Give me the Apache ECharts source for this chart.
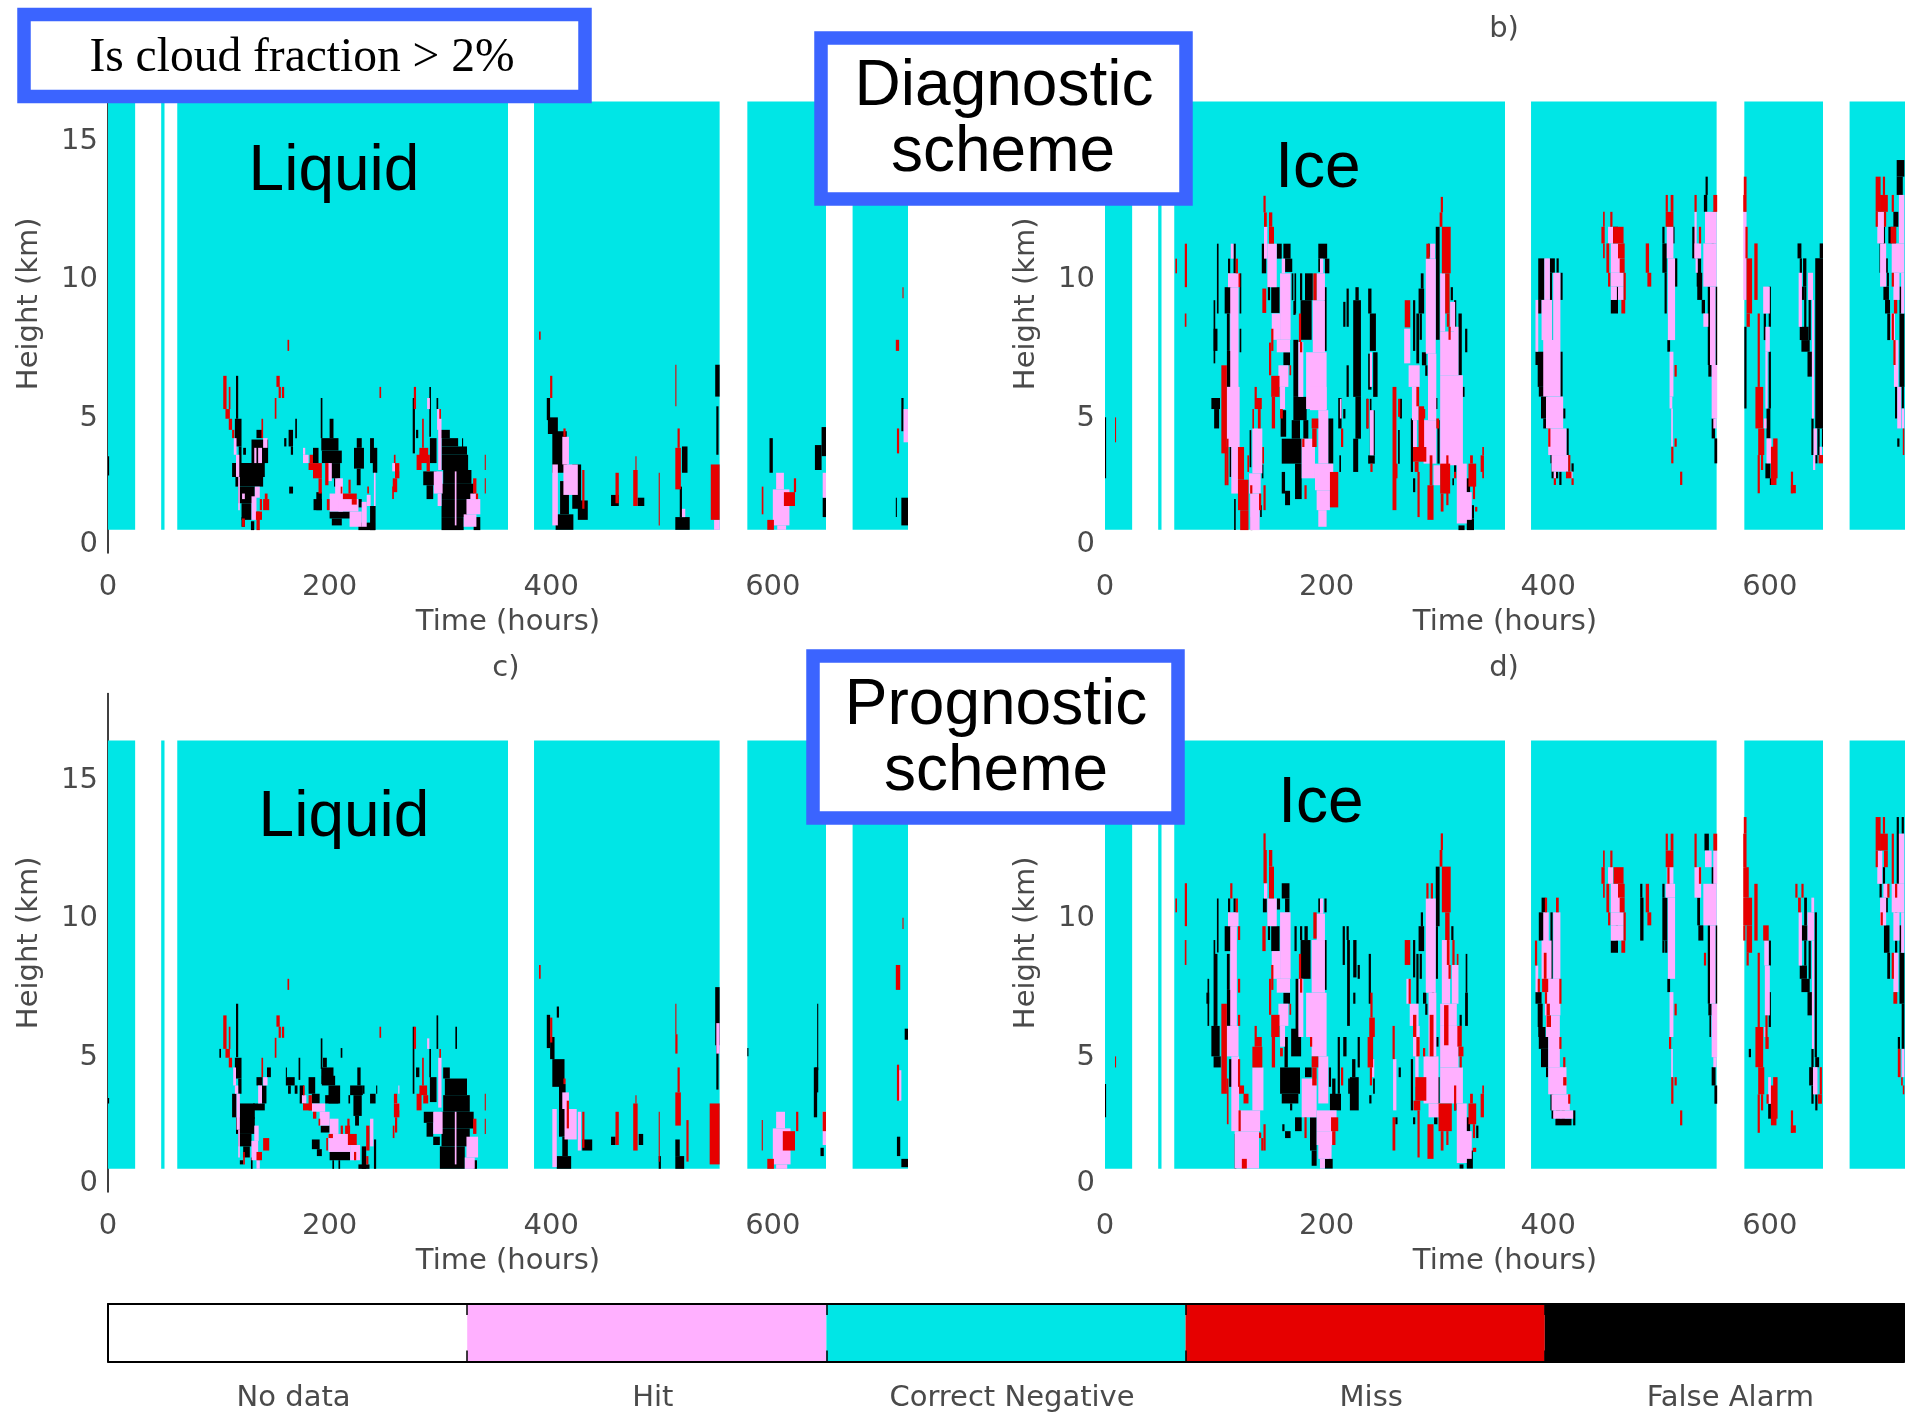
<!DOCTYPE html>
<html><head><meta charset="utf-8">
<script src="https://cdn.jsdelivr.net/npm/echarts@6/dist/echarts.min.js"></script>
<style>html,body{margin:0;padding:0;background:#fff}#c{width:1917px;height:1413px}</style>
</head><body><div id="c"></div>
<script>
// Each run: [hourStart, hourEnd, heightBottomKm, heightTopKm]
const observed = [[0,24.5,0.84,16.3],[48,51,0.84,16.3],[62.5,361,0.84,16.3],[384.5,552,0.84,16.3],[577,648,0.84,16.3],[672,722,0.84,16.3]];
const legendNames = ['No data','Hit','Correct Negative','Miss','False Alarm'];
const xTicks = [0,200,400,600];
const yTicks = [0.42,5,10,15];

const liquidDiagFalse = [[0,1,2.8,3.5],[115.5,117.5,4.85,6.4],[114.5,120.5,3.85,4.85],[118,120.5,3.25,3.85],[122,124.5,3.55,3.8],[112,141.5,2.75,3.25],[115,140,2.4,2.75],[117.5,132.5,1.8,2.4],[120.5,129.5,1.2,1.8],[129.5,144.5,3.25,4.1],[134,139.5,4.15,4.45],[129,132,0.83,1.15],[120.5,123.5,0.95,1.3],[163,167,3.85,4.45],[159,161,3.85,4.15],[165,167,3.55,3.85],[169,170.5,4.15,4.85],[163.5,167,2.15,2.4],[192,193.5,4.15,5.6],[200,203.5,4.15,4.85],[192.5,208,3.7,4.15],[193,211,3.25,3.7],[185,190,3.25,3.8],[200,209.5,2.7,3.25],[204,207,2.4,2.7],[188,193,1.55,2.2],[185.5,193,1.55,1.95],[200,218.5,1.25,1.5],[202,211,1,1.25],[224.5,229,3.8,4.15],[222,231,3.05,3.8],[224.5,228,2.45,3.05],[236.5,240,3.25,4.15],[239,243,2.9,3.8],[226,241,0.83,1.1],[236.5,241.5,0.83,1.7],[226,229,1.65,1.95],[275,277,3.6,5.6],[278,280,4.15,4.45],[290,291.5,4.2,6],[296.5,298,5.2,5.6],[290.5,296.5,3.25,4.15],[284.5,296.5,2.45,2.95],[287.5,293.5,1.95,2.45],[299.5,308.5,4.15,4.45],[301,316,3.85,4.15],[301,324,3.55,3.85],[301,325,3,3.55],[302.5,328,2.5,3],[301,330,1.95,2.5],[301,324,1.3,1.95],[301,321,0.83,1.3],[330,336,0.83,1.3],[319.5,320.5,3.8,4.15],[396,399,4.8,5.6],[397,406,4.3,4.9],[401,414,2.9,4.4],[419,427,1.6,3.2],[404,420,0.84,1.4],[408,416,1.4,2.6],[424,433,1.2,1.9],[454,461,1.7,2.1],[478,484,1.7,2],[512,525,0.84,1.3],[516,518,1.3,2.4],[518,523,2.9,3.85],[548,552,5.65,6.8],[549,551,3.55,5.3],[597,600,2.9,4.15],[638,644,3,3.9],[644,648,3.5,4.55],[645,648,1.3,2],[711,712,1.3,2],[716,722,1,2],[716,718,4.4,5.6]];
const liquidDiagHit = [[113.5,116,3.55,4.15],[115.5,118.5,2.75,3.55],[117.5,119,1.55,2.75],[135.5,139,3.25,3.8],[132,134,3.25,3.8],[140,144,3.8,4.15],[132.5,137,2,2.4],[129.5,134,1.2,2.05],[121,123.5,1.95,2.15],[176,181,3.25,3.55],[176,178,3.55,3.8],[197.5,202,2.6,3.25],[205,212,2,2.7],[200,212,1.5,2.15],[208,226,1.5,1.95],[218,229,0.95,1.5],[229,233.5,0.95,1.85],[233.5,237,1.7,2.1],[240,241.5,1.7,2.9],[256.5,263,2.95,3.25],[288,290.5,5.2,5.6],[297,300,4.45,5.2],[298,301,3,4.85],[294,302,2.15,2.95],[297.5,301,1.7,2.15],[313,314.5,1,2.95],[323.5,336,1.4,1.95],[321,332.5,0.95,1.4],[327,332.5,1.95,2.15],[401,406,1,3.2],[411,424,2.1,3.2],[410,416,3.2,4.2],[547,552,0.84,1.2],[518,521,1.3,1.6],[600,615,1,2.3],[603,610,2.3,2.9],[604,612,0.84,1],[718,722,4,5.2],[645,648,2,2.9]];
const liquidDiagMiss = [[104,107,5.2,6.4],[109,110.5,5.2,6],[106,110,4.85,5.2],[109,112,4.45,4.85],[112,114,4.15,4.45],[138.5,140,4.15,4.85],[152,155,6,6.4],[154,156,5.6,6],[157,159,5.6,6],[150.5,152,4.85,5.6],[245,246.5,5.6,6],[137,139,1.55,1.95],[140,145.5,1.55,1.95],[141.5,144,1.95,2.15],[134,137,0.83,1.5],[133.5,139,1.2,1.5],[121,123.5,0.95,1.25],[182,185,3.25,3.55],[181,193,3,3.25],[185,193,2.7,3],[190,193,2.15,2.7],[196,199,2.45,3.25],[197.5,200,1.55,1.95],[212,224.5,1.95,2.15],[217,219,2.15,2.65],[220,224.5,1.75,1.95],[210,211.5,2.15,2.4],[234,235.5,2.15,2.4],[258,259.5,3.25,3.55],[259,263,2.7,3.25],[257,261,2.2,2.7],[256.5,258,1.95,2.4],[276,278,5.2,6],[283.5,285,3.8,4.85],[281,289,3.25,3.8],[278.5,283,3,3.55],[287.5,290.5,2.95,3.55],[299,300.5,4.85,5.2],[329.5,332.5,2.15,2.7],[332,334,1.95,2.15],[340,341,3,3.55],[340,341,2.15,2.7],[162,163.5,7.3,7.7],[389,390.5,7.7,8],[399,401,5.6,6.4],[411,413,4.2,4.5],[428,430,1.6,3],[458,461,1.8,2.9],[474,478,1.7,3],[476,477,3,3.5],[497,498,1,2.9],[512,513,5.3,6.8],[512,517,2.3,3.8],[514,516,3.8,4.5],[544,552,1.2,3.2],[590,591.5,1.4,2.4],[595,601,0.84,1.2],[610,620,1.7,2.2],[619,621,2.2,2.7],[712,714,3.6,4.5],[711,714,7.3,7.7],[717,718,9.2,9.6]];

const iceDiagFalse = [[0,1,2.7,4.9],[101,102.5,8.65,11.17],[98,99.5,6.85,9.13],[98,101.5,7.3,8.1],[111,113,10.1,10.63],[108,114,8.65,9.6],[110,112.5,7.3,8.65],[110,114.5,6,7.3],[116,118,10.1,11.17],[121.5,123,8.65,10.1],[121.5,123,7.25,8.1],[96,103.8,5.2,5.6],[98.5,103,4.5,5.2],[111.5,114.5,3.85,4.86],[112.5,114,2.75,3.85],[116.5,118,0.83,1.95],[130.5,132,3.1,4.44],[141.5,143,2.7,3.2],[140,141.5,1.3,1.73],[131.5,133,0.83,1.3],[141.5,145.5,10.1,11.17],[147,149,9.13,10.1],[150,157.5,8.67,9.6],[155,159.5,10.63,11.17],[161,167.5,10.63,11.17],[162.5,169,10.15,10.63],[168.5,170,9.13,10.1],[170,172,8.6,9.1],[171,172.5,8.65,10.1],[176,178,9.13,10.1],[180.5,187.5,9.13,10.1],[176.5,186.5,7.7,9.13],[161,167,6.78,7.25],[170,174.5,5.64,7.7],[170,182,4.8,5.64],[158.5,163.5,4.2,5.16],[159.5,177.5,3.23,4.13],[168.5,176,4.13,4.8],[179,183.5,4.13,4.8],[171.5,177.5,1.95,3.23],[162.5,167,1.73,2.25],[159.5,162.5,2.15,2.93],[192.5,200.5,10.63,11.17],[198.5,202.5,10.1,10.63],[192.5,194.5,10.15,10.63],[197.5,200,7.3,9.6],[201.5,206,3.23,4.86],[211.5,213,2.93,3.53],[210.5,213.5,4.5,5.6],[215,217,4.86,5.2],[215,217,8.17,9.07],[218,220,8.17,9.55],[218,220,5.64,6.78],[224,231,5.64,9.13],[226,229,9.13,9.6],[226,231,4.13,5.64],[224,228.5,2.93,4.13],[237.5,240.5,8.65,9.55],[239,244.5,7.3,8.65],[242,246,5.64,7.25],[237.5,240.5,5.9,7.2],[237.5,243.5,3.23,3.53],[242,243.5,3.53,5.16],[236,237.5,4.5,5.57],[239,240.5,3.53,5.57],[264.5,266,3.23,4.44],[266,268,4.86,5.57],[278,280,7.3,9.13],[281,283.5,6.85,8.65],[283,288,8.65,9.55],[285,287.5,9.55,10.1],[284,286,7.7,8.65],[286,290,6.78,7.25],[289,291,6.4,6.78],[291.5,293,10.7,11.17],[298.5,302,7.7,11.78],[312,314,9.13,9.6],[315,317,8.17,9.13],[319,322,6.42,8.65],[325,327,7.25,8.1],[322,324.5,5.64,6],[298,300,5.2,5.6],[300,302,3.23,4.8],[276,278,2.93,4.86],[278,280,2.2,2.7],[315,317,2.93,3.83],[313.5,315,2.45,2.7],[325,329.5,2.2,2.7],[319,324.5,0.83,1],[326.5,333,0.83,1.25],[331,333,1.25,1.73],
[391,396.5,9.14,10.64],[390.5,394,8.65,9.14],[401.5,406,10.12,10.64],[401.5,403.5,7.69,10.12],[407.5,409.5,10.12,10.64],[411,413,9.14,10.12],[411,413,5.65,7.27],[388.5,396.5,6.79,7.27],[390.5,397.5,6,6.79],[391.5,398.5,5.65,6],[393.5,399.5,4.86,5.65],[395.5,399.5,4.5,4.86],[413.5,415.5,4.86,5.22],[416.5,418.5,3.54,4.5],[402,404,3.24,3.54],[403,405,2.7,3.24],[407,409,2.7,2.94],[410,412,2.46,2.94],[421,423,2.94,3.24],[456.5,463,8.65,9.14],[458.5,463,11.18,11.78],[461,463,9.14,9.62],[503,505,11.18,11.78],[503,507,10.12,11.18],[505,507,8.65,10.12],[512,514,11.18,11.78],[514,516.5,9.62,10.64],[507.5,510,7.27,7.69],[542,544,12.93,13.59],[540.5,543.5,12.32,12.93],[530,533,10.64,11.78],[534,538,9.62,10.64],[534.5,539,9.14,10.12],[538.5,541.5,8.65,9.14],[547.5,549.5,11.18,12.32],[544,546,6.79,9.62],[551,552.5,6.79,9.62],[544.5,547.5,6.37,6.79],[547.5,550.5,4.14,4.86],[550,552.5,3.24,4.14],[577,579,5.22,8.17],[599,601,8.17,9.62],[594.5,596.5,7.69,8.65],[599,601,5.22,7.27],[597,600.5,4.14,5.22],[596,600.5,2.7,3.24],[600,604.5,2.46,2.7],[625,628.5,10.64,11.18],[627,629,9.62,10.64],[627,631,9.14,9.62],[630,633,9.62,10.64],[631,633,7.69,9.62],[635,637,7.69,9.14],[627,635,7.69,8.17],[628.5,636,7.27,7.69],[634,638,6.37,7.27],[641,648,4.5,10.64],[645,648,10.64,11.18],[637.5,639.5,3.54,4.86],[643,645,3.54,4.5],[647,648,3.84,4.5],[641,643,3.24,3.54],[714.5,721.4,13.59,14.19],[714.5,720,12.93,13.59],[711.5,716,11.78,12.32],[707,714,11.18,11.78],[702,704,10.64,11.78],[699,701,10.12,11.18],[704,706.5,10.12,10.64],[705.5,707.5,9.62,10.12],[702.5,707.5,9.14,9.62],[704,708.5,8.65,9.14],[706,708.5,7.69,8.65],[713,715,9.62,10.12],[717,721.4,6,8.65],[717,719,8.65,9.62],[713,715,4.86,6.79],[719,721,5.22,6],[715,717,3.84,4.14]];
const iceDiagHit = [[113.5,116,10.63,11.17],[111,121.5,9.6,10.1],[113,120.5,6,9.6],[110,121.5,3.83,6],[114,120,2.15,3.83],[133,142,2.88,4.5],[130,140.5,2.15,2.88],[131,139.5,0.83,2.15],[143.5,146.5,10.63,11.78],[146.5,155,9.6,11.17],[158,167.5,7.7,10.1],[159.5,162.5,10.1,10.63],[150.5,158,7.7,8.65],[155,167,7.25,7.7],[156.5,165.5,6,6.78],[158,162.5,5.2,6],[174.5,179,5.64,7.62],[187.5,198.5,7.25,9.13],[191,198.5,9.13,10.1],[194,197,10.1,10.63],[181.5,200,5.2,7.25],[185,200,5.16,6],[192.5,201.5,3.23,5.16],[177.5,189.5,2.7,4.13],[189.5,206,2.27,3.23],[191,203,1.55,2.27],[192.5,200,0.95,1.55],[239,241,6,7.25],[239,242.5,3.53,5.16],[212,213.5,4.86,5.57],[270,275.5,6.85,8.1],[274,284,6,6.78],[277,283,4.8,6],[278,281.5,3.83,4.8],[289.5,298.5,7.2,10.63],[293.5,298,10.63,11.17],[291.5,299,4.8,7.2],[287.5,299,3.23,4.8],[302.5,307,8,10.1],[302.5,317.5,6.42,8],[302.5,323,3.17,6.42],[311.5,316,8,9.07],[315,319,6.42,8.17],[296.5,302.5,2.45,3.17],[317.5,326.5,1.07,3.23],[320.5,331,1.2,2.2],
[388.5,391,7.27,9.14],[396.5,401.5,9.14,10.64],[394,403.5,7.69,9.14],[404.5,411,7.69,10.12],[395.5,411,5.65,7.69],[398,413.5,4.5,5.65],[400,416.5,3.54,4.5],[403,418,2.94,3.54],[405,407,2.7,2.94],[420,422,2.7,2.94],[454,458.5,11.18,11.78],[456.5,466,10.12,11.18],[456.5,468,9.62,10.12],[456.5,462,9.14,9.62],[463,468,9.14,9.62],[507,513,10.64,11.78],[508,514.5,7.69,10.64],[509.5,513,5.65,7.27],[509.5,512,5.22,5.65],[511,512.5,3.84,5.22],[532,534,10.64,12.32],[532,538,10.64,11.18],[533,535,10.12,10.64],[541.5,552,11.18,12.32],[540,552,9.62,11.18],[546,551,6.79,9.62],[547.5,552.5,4.86,6.79],[549,552,4.5,4.86],[540,544.5,8.17,8.65],[576,579,9.14,12.32],[594,600,8.65,9.62],[596,600,7.27,8.17],[596,598,5.22,7.27],[594.5,597,4.5,4.86],[597,601.5,3.24,4.14],[626,629,8.17,10.12],[634.5,639,9.14,10.12],[638,640,4.86,9.14],[639.5,642.5,3.54,4.5],[639,641,3,3.54],[645,647,3.54,3.84],[697,703,11.18,12.32],[699.5,705,9.62,11.18],[716.5,721.4,11.18,12.93],[710,721.4,10.12,11.18],[711.5,717,9.14,10.12],[718.5,721.4,8.65,10.12],[709.5,713,7.69,8.65],[712,716,6,7.69],[715,718.5,4.5,6],[719,721.4,4.5,5.22]];
const iceDiagMiss = [[63.5,65,10.1,10.63],[72,74,9.6,11.17],[72,73.5,8.17,8.65],[9,10,4,4.9],[105,110,3.6,6.78],[108,110,2.45,3.83],[110,111.5,2.45,4.13],[118,120,10.1,10.63],[120.5,122,9.6,10.1],[120,125.5,2.65,3.83],[120,129.5,1.55,2.65],[122,129.5,0.83,1.55],[128.5,130,2.93,3.53],[135,137,5.6,6],[135,141.5,5.2,5.6],[138,140.5,4.5,5.2],[133,134.5,4.5,5.2],[142,143.5,3.23,3.83],[131,133,2.15,2.45],[139,141,1.55,2.15],[143,145,1.55,2.45],[143,145,12.3,12.9],[143.5,146,11.78,12.3],[148,151,11.78,12.3],[148,152.5,11.17,11.78],[142,145.5,8.67,9.55],[148,150,6.42,7.6],[150,152,7.3,8.1],[150,157.5,5.64,6.4],[150.5,153.5,4.5,5.64],[158,160.5,4.86,5.2],[166.5,168,6.42,6.78],[175,177,7.62,8.65],[176,178,7.25,7.62],[188,191,9.13,10.1],[186.5,192.5,4.5,4.86],[178,180,3.83,4.13],[180,182,1.95,2.45],[203,210.5,1.65,2.93],[187,191,3.83,4.5],[213,215,3.83,4.5],[236,238,4.5,5.57],[239.5,241.5,2.93,3.23],[259.5,263,1.55,6],[264.5,266.5,4.92,5.57],[262,264,2.7,3.23],[270.5,275.5,8.15,9.13],[281,283.5,5.3,6],[283,288,3.83,5.3],[278,290,3.3,3.83],[279.5,283,2.93,3.3],[282,284,1.3,2.93],[287,289,4.86,5.2],[299,301.5,4.5,4.86],[291,296.5,1.2,2.45],[293,295.5,2.45,3.53],[302.5,311.5,2.15,3.23],[303,305.5,1.5,2.15],[308,310,1.73,3.53],[315,317,2.7,2.93],[290,293,10.63,11.17],[303,305,12.3,12.86],[302,304.5,11.78,12.3],[304,312,10.1,11.78],[307,311,8.65,10.1],[308.5,311,8.17,8.65],[310,312,7.7,8.17],[328,335,2.4,3.23],[329.5,332,3.23,3.53],[332,334,1.95,2.45],[334,336,1.5,1.67],[339,342,2.93,3.53],[340.5,342,3.53,3.83],[340.5,342,2.7,2.93],
[400,402,3.84,4.5],[418,420,2.94,3.54],[416,421,2.7,2.94],[405,407,2.46,2.7],[421,423,2.46,2.7],[449.5,451,11.78,12.32],[456,458,11.78,12.32],[448,451,11.18,11.78],[449.5,451,10.64,11.18],[452.5,455,10.12,11.18],[454,456,9.62,10.12],[458.5,468,11.18,11.78],[463,469,10.64,11.18],[464.5,469,10.12,10.64],[468,470,9.14,10.12],[466,469.5,8.65,9.14],[488,491,10.12,11.18],[489.5,493,9.62,10.12],[506,508,12.32,12.93],[506,513,11.78,12.32],[510.5,513,12.32,12.93],[514,516,6.37,6.79],[514,516,3.84,4.14],[511,513,3.24,3.84],[519,521,2.46,2.94],[532,534,12.32,12.93],[536,538,11.18,11.78],[549,552.5,12.32,12.93],[576.5,579,12.93,13.59],[576,579,12.32,12.93],[578,580,10.64,11.78],[579,584,8.65,10.64],[579,582,8.17,8.65],[586,589,9.14,11.18],[589,591,6,8.65],[587,594,4.5,6],[589.5,595,3.54,4.5],[589,591,2.16,3.54],[592,594,3,3.54],[603,607,2.7,4.14],[601,606,2.46,3.84],[619,621,2.16,2.94],[619,623.5,2.16,2.46],[644,648,3.24,3.54],[695.5,700,12.32,13.59],[695.5,697.5,11.78,12.32],[702,704,12.93,13.59],[699.5,706.5,12.32,12.93],[703,705,11.78,12.32],[710,712,12.32,12.93],[709,714,11.18,11.78],[710,712,9.62,10.12],[712,715,8.65,9.14],[710,712,7.69,8.65],[711.5,713.5,6.79,7.69],[720,721.4,3.54,4.5]];

const liquidProgFalse = [[0,1,3.2,3.4],[115.5,117.5,4.87,6.8],[100.5,102,4.85,5.17],[114.5,120.5,4.1,4.85],[143.5,147,4.15,4.5],[117.5,120.5,3.55,4.1],[112,116,2.7,3.55],[119,132.5,2.65,3.2],[137,143,3.2,3.85],[134,139.5,3.85,4.15],[131,141.5,2.95,3.2],[115.5,132.5,2.1,2.7],[117.5,129.5,1.65,2.1],[122,128,1.25,1.65],[129,130.5,0.84,1.25],[119,122,1,1.15],[160.5,168.5,3.85,4.15],[160.5,161.5,4.15,4.5],[172,173.5,4.05,4.85],[162.5,165,3.55,3.85],[168.5,171,3.55,3.85],[173,177,3.2,3.85],[181,187,3.55,4.15],[184,191,3.2,3.55],[192,193.5,4.45,5.55],[192.5,203.5,3.9,4.5],[193,205,3.85,4.2],[194,197.5,4.5,4.85],[210,211.5,4.85,5.2],[196,208,3.2,3.5],[199,209.5,3.2,3.85],[192,200,2.15,2.4],[184,191,1.55,1.9],[188.5,193,1.3,1.55],[200,218.5,1.15,1.45],[202.5,204,0.84,1.15],[208,209.5,0.84,1.15],[225,228,3.85,4.5],[218.5,230,3.5,3.85],[221.5,229,2.75,3.5],[223,226.5,2.4,2.75],[230,231.5,3.55,3.85],[217,218.5,3.2,3.5],[236.5,241.5,3.2,3.55],[242,243,3.55,3.85],[226,236,0.84,1],[240,242,0.84,1.9],[229,233,0.84,1.65],[275,276.5,3.55,5.97],[278,281,4.15,4.5],[296.5,298,5.17,6.38],[313.5,315,5.17,5.97],[290.5,296.5,3.25,4.15],[290,291.5,4.15,5.17],[285,294,2.5,2.9],[287.5,293.5,2,2.5],[293.5,299.5,1.7,2],[302.5,308.5,4.1,4.5],[304,324,3.5,4.1],[302.5,326.5,2.9,3.5],[301,330,2.3,2.9],[301,326.5,1.65,2.3],[299.5,322,0.84,1.65],[330,333,0.84,1.15],[396,399,5.2,6.4],[405,407,6.3,6.7],[399,403,4.8,5.6],[401,412,3.8,4.8],[407,413,2,3.9],[405,418,0.84,1.3],[410,415,1.3,2],[428,437,1.5,1.9],[454,458,1.7,2],[479,483,1.7,2.1],[497,499,0.84,1.3],[512,520,0.84,1.3],[512,516,1.3,1.9],[548,552,5.3,7.4],[549,551,3.7,5.3],[577,578,4.9,5.2],[637,640,2.7,4.5],[638,641,3.6,4.5],[640,641,4.4,6.8],[643,646,1.3,1.6],[712,715,1.3,2],[716,722,0.9,1.2],[719,722,5.5,5.9]];
const liquidProgHit = [[113,115.5,3.85,4.5],[114.5,117.5,3.55,3.85],[116,119,2.25,3.55],[117.5,119,1.25,2.25],[140,144,3.85,4.15],[135.5,139,3.2,3.85],[132,136,1.85,2.4],[129.5,135.5,1.15,1.85],[134,137,0.84,1.15],[175,179,3.2,3.5],[184,196,2.9,3.2],[191,200,2.4,2.9],[200,208,2.1,2.65],[199,218.5,1.45,2.1],[218.5,227.5,1.15,1.7],[236.5,239.5,1.65,2.65],[262,263,3.55,3.85],[259,263,2.95,3.2],[288,290,5.17,5.55],[298,301,3.05,4.85],[293.5,302,2.1,2.9],[313,314.5,1,2.9],[323.5,334,1.25,2],[322,331,0.84,1.25],[401,405,0.9,3],[412,423,1.9,3],[410,416,3,3.6],[424,427,1.5,2.9],[549,552,5,6.1],[600,616,1,2.3],[603,611,2.3,2.9],[603,613,0.84,1],[645,648,1.7,2.9],[713,716,3.3,4.4]];
const liquidProgMiss = [[104,107,5.17,6.38],[109,110.5,5.17,5.97],[106,110,4.85,5.17],[109,112,4.5,4.85],[138.5,140,4.15,4.85],[152,155,5.97,6.38],[154,156,5.57,5.97],[157,159,5.57,5.97],[150.5,152,4.85,5.57],[245,246.5,5.57,5.97],[140,145.5,1.5,1.95],[122,123.5,1,1.45],[134,139,1.15,1.45],[176,177.5,3.5,3.85],[181,184,2.95,3.5],[176,184,2.95,3.2],[185,188,2.65,2.9],[190,191.5,2.4,2.65],[199,203,1.95,2.1],[197,198.5,1.5,1.95],[214,218.5,2.1,2.4],[216,218,2.35,2.65],[216.5,224.5,1.7,2.1],[233,236,1.5,2.4],[233,235,1,1.3],[210,212,2.1,2.4],[222,224,1.15,1.45],[258,261,3.2,3.55],[258,263,2.7,3.2],[257,258.5,1.95,2.4],[259,261,2.15,2.7],[276,278,5.17,5.97],[283.5,285,3.85,4.85],[281,288,3.5,3.85],[278.5,283,2.95,3.55],[284.5,289,3.2,3.5],[299,300.5,4.85,5.17],[329.5,332.5,2.1,2.65],[340,341,2.95,3.55],[340,341,2.1,2.65],[162,163.5,7.3,7.7],[389,390.5,7.7,8.2],[399,401,5.4,6.3],[411,413,3.9,4.1],[414,416,2.3,3.3],[428,430,1.6,2.9],[458,461,1.7,2.9],[474,478,1.5,3.2],[476,477,3.2,3.5],[497,498,1.1,2.9],[512,513,5.7,6.8],[512,514,5,5.7],[512,517,2.4,3.6],[514,516,3.6,4.5],[522,524,1.1,2.6],[543,552,1,3.2],[590,591,1.5,2.6],[595,601,0.84,1.2],[609,620,1.5,2.2],[621,623,2.2,2.9],[645,648,2.2,2.9],[712,714,3.3,4.6],[711,715,7.3,8.2],[717,718,9.5,9.9]];

const iceProgFalse = [[0,1,2.7,3.9],[101,102.5,8.65,10.6],[98,99.5,6,9.1],[92.5,94,6,7.7],[91.5,94,6.8,7.2],[96,103.5,4.9,6],[98,104.5,4.5,4.9],[98.5,101.5,6,8.6],[111,113,10.1,10.6],[108,114,8.7,9.6],[110,112.5,7.3,8.6],[110,114.5,6,7.3],[116,118,10.1,10.6],[112,115,3.8,4.8],[117,118.5,0.85,2.1],[142.5,146,10.1,10.6],[147,149,9.1,10.1],[150,157.5,8.7,9.6],[155,158,10.2,10.6],[159.5,166.5,10.6,11.15],[162.5,166.5,10.1,10.6],[161,167,6.8,7.2],[171,173,8.7,9.6],[176,178,9.1,9.6],[180,183,9.1,9.6],[176.5,185.5,7.7,9.1],[172,175,5.6,7.7],[168,177,4.9,5.9],[162,165,4.5,5.6],[158,176,3.55,4.5],[159.5,174.5,3.2,3.55],[167,169,2.95,3.2],[171.5,177.5,2.2,2.7],[162.5,167.5,1.95,2.2],[160,162,2.2,2.45],[180.5,186.5,4.15,4.5],[192.5,194.5,10.1,10.6],[198,200,10.1,10.6],[198,200,7.3,9.1],[185,191,1.5,2.7],[186.5,191,0.95,1.5],[198.5,205.5,0.85,1.2],[202,204,1.2,1.7],[202,204,3.8,4.5],[205,208,3.2,4.1],[203,213,2.95,3.55],[210,212,3.55,5.6],[215,218,4.9,5.6],[214.5,216.5,8.2,9.6],[218,220,9.1,9.6],[218.5,221,6,9.1],[224,227,7.75,9.1],[228,230,7.7,8.2],[224,226,6.8,7.2],[238,240,6.8,8.6],[221,229,2.95,4.15],[223,226,4.15,4.8],[228,230,4.5,5.6],[219.5,221,3.55,4.1],[238.5,240.5,3.2,3.5],[242,243.5,3.55,4.1],[265,267,4.15,4.5],[262,264,2.45,2.7],[276,278,2.95,4.8],[278,280,2.45,2.7],[278,280,7.75,9.1],[281,283,6.8,8.6],[283,288,8.7,9.6],[285,287,9.6,10.1],[284,286,7.7,8.6],[287,290,6.8,7.2],[289,291,6.4,6.8],[293,297.5,5.6,6.4],[295,297,6.4,7.7],[298.5,302,9.6,11.75],[298.5,300.5,7.7,9.6],[299,301,5.25,5.6],[300,302,3.2,4.15],[312.5,314.5,9.1,9.6],[320,322,6,6.4],[325,327.5,6,7.2],[325.5,327,7.2,8.6],[315,317,2.95,3.2],[297,300,2.45,2.7],[326,329.5,2.2,2.7],[335,337,1.95,2.4],[320,323.5,0.85,1],[326.5,332,0.85,1.5],
[394,397.5,10.1,10.63],[391.5,396.5,9.08,10.1],[402,404,7.7,10.1],[388.5,394,6.8,7.22],[390.5,395,5.96,6.8],[391,397.5,5.6,5.96],[391.5,400,5.17,5.6],[393.5,400,4.51,5.17],[398,400,4.15,4.51],[402,404.5,2.95,3.53],[403,405,2.65,2.95],[406.5,421,2.41,2.65],[407,411,2.65,2.95],[412,415,2.65,2.95],[422.5,424.5,2.41,2.95],[456.5,463,8.64,9.08],[461,463,9.08,9.63],[483,485,10.63,11.13],[483,486,9.08,10.63],[503,505,10.63,11.13],[503,507.5,9.08,10.63],[503,505,8.64,9.08],[505.5,507.5,8.64,9.08],[507.5,510,7.22,7.7],[541,545,12.33,12.94],[547.5,549.5,11.13,11.73],[534.5,537,9.63,10.63],[535.5,540,9.08,9.63],[544,546,6.8,9.63],[551,552.5,6.8,9.63],[544.5,547.5,6.38,6.8],[545.5,547,5.6,6.38],[547.5,551,3.85,4.51],[550,552.5,3.19,3.85],[599,601,8.18,9.08],[599,601,5.96,7.22],[581,583,4.87,5.17],[598.5,601,2.65,3.19],[631,633.5,9.63,10.63],[627,634,9.08,9.63],[631,633,8.18,9.08],[627,633.5,7.7,8.18],[628.5,636,7.22,7.7],[634,638,6.38,7.22],[635,637,7.7,9.08],[640.5,642.5,4.87,10.1],[637.5,639.5,4.51,5.17],[641,644.5,4.51,4.87],[635.5,639,3.85,4.51],[637.5,639.5,3.19,3.85],[641,643,2.95,3.53],[714.5,716.5,11.13,13.54],[719,721,12.94,13.54],[702,704,11.13,11.73],[699,701,10.63,11.13],[704,706.5,10.1,10.63],[703,708,8.64,9.63],[706,708.5,7.7,8.64],[713,715,9.63,10.1],[713,715,8.64,9.08],[717,719,8.64,9.63],[717,721.4,6.8,8.64],[719,721.4,5.17,6.8],[715.5,717.5,5.17,5.6]];
const iceProgHit = [[111,120.5,9.6,10.1],[113,119,6,9.6],[110,120.5,4.9,6],[114,121,2.2,4.9],[117,139,0.85,2.2],[122,140,2.2,2.95],[133,143,2.95,4.5],[143.5,146.5,10.6,11.15],[146.5,155,9.6,10.6],[158,167.5,7.7,10.1],[150.5,158,7.7,8.7],[155,167,7.2,7.7],[156.5,165.5,6,6.8],[158,162.5,5.25,6],[174.5,179,5.6,7.7],[186.5,198.5,7.2,9.1],[191,198.5,9.1,10.05],[194,197,10.05,10.6],[181.5,200,5.6,7.2],[186.5,200,4.9,5.6],[192.5,201.5,3.2,4.9],[177.5,191,2.7,4.1],[191,209,2.2,2.95],[191,206,1.7,2.2],[192.5,204.5,1.2,1.7],[194,198.5,0.85,1.2],[260,263,2.95,4.8],[241,243,4.15,4.8],[238,240,4.9,5.6],[272,276,6.8,7.7],[275,283,6,6.8],[278,284,4.9,6],[280,283,3.8,4.9],[289.5,298.5,7.2,10.6],[292,299,4.9,7.2],[287.5,301,3.2,4.9],[292,302.5,2.7,3.2],[304,311.5,6.8,9.1],[302.5,317.5,6,6.8],[302.5,319,4.5,6],[302.5,323,3.2,4.5],[313,319,6.8,8.2],[317.5,326.5,1.05,3.2],[320.5,331,1.2,2.2],
[388.5,391,7.22,8.18],[395.5,400.5,8.64,10.1],[394,403,7.7,9.08],[404.5,411,7.7,10.1],[397,411,6.38,7.7],[398,410.5,5.6,6.38],[400,410.5,4.51,5.6],[400,416.5,3.53,4.51],[403,419.5,2.95,3.53],[404.5,422.5,2.65,2.95],[454,458.5,11.13,11.73],[456.5,466,10.1,11.13],[456.5,468,9.63,10.1],[456.5,468,9.08,9.63],[507,513,11.13,11.73],[506,514.5,10.63,11.13],[508,514.5,7.7,10.63],[509.5,513,5.6,7.22],[511,512.5,4.15,5.17],[532,538,10.63,11.73],[541.5,547.5,11.73,12.33],[549,552.5,11.13,12.33],[540,552,9.63,11.13],[546,551,6.8,9.63],[547.5,552.5,4.87,6.8],[549,552,4.51,4.87],[595,599,8.18,9.08],[595.5,600,6.38,8.18],[595,597,5.6,5.96],[598.5,601,3.19,4.15],[637.5,640,10.1,10.63],[634,640,9.08,10.1],[626,629,8.18,10.1],[638,640,5.17,9.08],[639,643,3.53,4.51],[697,701.5,11.13,12.33],[716.5,721.4,11.13,12.94],[710,721.4,10.1,11.13],[711.5,717,9.08,10.1],[718.5,721.4,8.64,10.1],[699.5,705,9.63,10.63],[702.5,707,10.63,11.13],[711.5,716,7.22,8.64],[719,721.4,4.15,5.17]];
const iceProgMiss = [[63.5,65,10.1,10.6],[72,74,9.6,11.15],[72,73.5,8.2,9.1],[9,10,4.5,4.9],[113,115,10.6,11.15],[118,120,10.1,10.6],[120,122,9.1,9.6],[120,122,7.2,7.7],[120,122,6,6.4],[105,110,3.55,6.8],[110,111.5,2.45,4.1],[120,122,3.8,4.8],[121,125.5,3.55,3.85],[125,129.5,3.2,3.55],[120.5,122.5,2.2,2.95],[123.5,128,0.85,1.2],[135,137,5.6,6],[135,141.5,5.25,5.6],[133,142,4.5,5.25],[143,145,1.5,2.45],[139,141,1.95,2.15],[141,143,1.5,1.95],[143,145,12.35,12.95],[143,146,11.15,12.35],[148,151,11.75,12.35],[148,152.5,10.6,11.75],[142,145,8.7,9.6],[148,150,6.4,7.7],[150,152,7.3,8.2],[150,157.5,5.6,6.4],[150.5,153.5,4.5,5.6],[158,160.5,4.9,5.2],[166.5,168,6.4,6.8],[175,177,7.7,8.6],[176,178,7.2,7.7],[188,191,9.15,10.1],[185,187,5.25,5.6],[186.5,192.5,4.5,4.9],[187,191,3.85,4.5],[180,182,1.95,2.7],[204,210.5,2.2,2.7],[205,208,1.7,2.2],[213,215,3.85,4.5],[239.5,241.5,6.3,7.2],[238.5,243.5,5.6,6.3],[237,242,4.5,5.6],[239,241,3.85,4.5],[259.5,261.5,4.8,6],[259.5,262,1.5,2.7],[270.5,275.5,8.2,9.1],[274,276,6.8,7.7],[278,281,5.6,6.4],[281,284,4.9,5.6],[280,290,3.3,4.15],[278.5,284.5,2.95,3.3],[282,284,1.25,2.95],[287,289,4.9,5.2],[293,296.5,4.9,6.4],[291,296.5,1.2,2.45],[301,313,2.2,3.2],[303,305.5,1.5,2.2],[308,310,1.7,2.2],[315,317,2.95,3.85],[306,310,5.3,6.75],[318,322,5.25,6],[319,323.5,4.9,5.25],[320,322,4.5,4.9],[303,305,12.35,12.95],[302,304.5,11.75,12.35],[304,312,10.1,11.75],[307,311,9.1,10.1],[308.5,311,8.2,9.1],[310,312,7.7,8.2],[290,292,10.6,11.15],[294,296,10.6,11.15],[313.5,315.5,8.2,9.1],[317.5,319,8.2,8.6],[328,335,2.45,3.2],[329.5,332,3.2,3.55],[332,334,1.95,2.45],[332,335,1.45,1.6],[339,342,2.7,3.55],[340.5,342,3.55,3.85],
[397,399,10.1,10.63],[407,409.5,10.1,10.63],[388,390,8.18,9.08],[390.5,392.5,7.22,7.7],[396,398.5,7.7,8.64],[394.5,400,7.22,7.7],[397,399,6.8,7.22],[398.5,401.5,6.38,6.8],[398.5,402.5,5.96,6.38],[410,412,6.8,7.7],[410,412,5.17,5.6],[413.5,415.5,4.51,4.87],[413.5,416.5,3.85,4.15],[418,420,3.19,3.53],[449.5,451,11.73,12.33],[456,458,11.73,12.33],[448,451,11.13,11.73],[449.5,451,10.63,11.13],[452.5,455,10.1,11.13],[454,456,9.63,10.1],[459,468,11.13,11.73],[463,469,10.63,11.13],[464.5,469,10.1,10.63],[468,470,9.08,10.1],[466,469.5,8.64,9.08],[488,491,10.1,11.13],[489.5,493,9.63,10.1],[506,508,12.33,12.94],[506,513,11.73,12.33],[510.5,513,12.33,12.94],[507.5,509.5,11.13,11.73],[514,516,6.38,6.8],[509,511,5.17,5.6],[514,516,3.85,4.15],[511,513,3.19,4.15],[519,521,2.41,2.95],[532,534,11.73,12.94],[536,538,11.13,11.73],[549,552.5,12.33,12.94],[540.5,542.5,8.18,8.64],[576.5,579,12.94,13.54],[576,579,11.73,12.94],[576,581,10.63,11.73],[576,584,9.63,10.63],[576,578,9.08,9.63],[579,584,8.64,9.63],[579,581,8.18,8.64],[586,589,9.08,11.13],[589,591,5.96,8.64],[594,599,9.08,9.63],[596,598,5.17,6.38],[587,594,4.51,5.96],[597,599,5.17,5.6],[589.5,595,3.53,4.51],[589,591,2.14,3.53],[592,594,2.95,3.53],[603,607,2.65,4.15],[601,606,2.41,3.85],[597,599,3.19,3.53],[619,621,2.14,2.95],[619,623.5,2.14,2.41],[623,625,10.63,11.13],[628.5,630.5,10.63,11.13],[625.5,628,10.1,10.63],[645,647,3.53,4.51],[643.5,647,3.19,3.53],[695.5,700,12.33,13.54],[695.5,697.5,11.73,12.33],[702,704,12.94,13.54],[699.5,706.5,12.33,12.94],[703,706.5,11.73,12.33],[710,712,11.13,12.94],[706,708,10.63,11.13],[713,715,10.63,11.13],[700,702,9.63,10.1],[710,712,7.7,8.64],[711.5,715,6.8,7.22],[715.5,718,4.15,5.17],[718.5,720,3.85,4.15],[720,721.4,3.53,3.85]];

const COL = {hit:'#ffb0ff', neg:'#00e6e6', miss:'#e60000', fa:'#000000', none:'#ffffff'};
const AX = '"DejaVu Sans",sans-serif';
const LBL = '#4a4a4a';
const FS = 29;

const panels = [
 {left:108, top:54.5, stub:true,  runs:[liquidDiagFalse,liquidDiagHit,liquidDiagMiss]},
 {left:1105,top:54.5, stub:false, runs:[iceDiagFalse,iceDiagHit,iceDiagMiss]},
 {left:108, top:693.5,stub:true,  runs:[liquidProgFalse,liquidProgHit,liquidProgMiss]},
 {left:1105,top:693.5,stub:false, runs:[iceProgFalse,iceProgHit,iceProgMiss]}
];

function rects(name, color, data, idx){
  return {type:'custom', name, data, xAxisIndex:idx, yAxisIndex:idx, clip:false, silent:true, animation:false,
    encode:{x:[0,1], y:[2,3]},
    renderItem(p, api){
      const a = api.coord([api.value(0), api.value(3)]);
      const b = api.coord([api.value(1), api.value(2)]);
      return {type:'rect', shape:{x:a[0], y:a[1], width:b[0]-a[0], height:b[1]-a[1]}, style:{fill:color}};
    }};
}

const grid=[], xAxis=[], yAxis=[], series=[];
panels.forEach((p,i)=>{
  grid.push({left:p.left, top:p.top, width:800, height:498.6});
  xAxis.push({type:'value', gridIndex:i, min:0, max:722, name:'Time (hours)', nameLocation:'middle', nameGap:55,
    nameTextStyle:{fontFamily:AX, fontSize:FS, color:LBL},
    axisLine:{show:false}, axisTick:{show:false}, splitLine:{show:false},
    axisLabel:{customValues:xTicks, margin:20, fontFamily:AX, fontSize:FS, color:LBL}});
  yAxis.push({type:'value', gridIndex:i, min:0, max:18, name:'Height (km)', nameLocation:'middle', nameGap:64,
    nameTextStyle:{fontFamily:AX, fontSize:FS, color:LBL},
    axisLine:{show:p.stub, onZero:false, lineStyle:{color:'#000', width:1.5}}, axisTick:{show:false}, splitLine:{show:false},
    axisLabel:{customValues:yTicks, margin:10, color:LBL, fontFamily:AX, fontSize:FS,
      formatter:v=>'{t|'+Math.floor(v)+'}',
      rich:{t:{padding:[7,0,0,0], fontFamily:AX, fontSize:FS, color:LBL}}}});
  series.push(rects('Correct Negative',COL.neg,observed,i));
  series.push(rects('False Alarm',COL.fa,p.runs[0],i));
  series.push(rects('Hit',COL.hit,p.runs[1],i));
  series.push(rects('Miss',COL.miss,p.runs[2],i));
});

// colour bar
grid.push({left:108, top:1304, width:1796, height:57.5});
const catAxis = extra => Object.assign({type:'category', gridIndex:4, data:legendNames, z:10,
   axisLine:{show:true, onZero:false, lineStyle:{color:'#000', width:2}},
   axisTick:{show:true, inside:true, length:11, lineStyle:{color:'#000', width:1.5}}}, extra);
xAxis.push(catAxis({position:'bottom', axisLabel:{margin:22, interval:0, padding:[0,0,0,12], fontFamily:AX, fontSize:FS, color:LBL}}));
xAxis.push(catAxis({position:'top', axisLabel:{show:false}}));
const valAxis = pos => ({type:'value', gridIndex:4, min:0, max:1, position:pos, z:10, axisLine:{show:true, onZero:false, lineStyle:{color:'#000', width:2}},
   axisTick:{show:false}, axisLabel:{show:false}, splitLine:{show:false}});
yAxis.push(valAxis('left')); yAxis.push(valAxis('right'));
const legendColors = [COL.none,COL.hit,COL.neg,COL.miss,COL.fa];
series.push({type:'bar', xAxisIndex:4, yAxisIndex:4, barWidth:'100%', silent:true, animation:false,
  data: legendColors.map(c=>({value:1, itemStyle:{color:c}}))});

const BLUE='#3b64ff';
const SANS='"Liberation Sans",Arial,sans-serif';
const box=(x,y,w,h)=>({type:'rect', z:50, shape:{x,y,width:w,height:h}, style:{fill:'#fff', stroke:BLUE, lineWidth:13.5}});
const txt=(t,x,y,size,fam,col)=>({type:'text', z:51, x, y, style:{text:t, fill:col||'#000', font:`${size}px ${fam}`, align:'center', verticalAlign:'middle'}});
const graphic=[
  box(24,14.5,561,82), box(821,38,365,161), box(813,656,365,162),
  txt('Is cloud fraction > 2%',302,59,47.5,'"Liberation Serif",serif'),
  txt('Diagnostic',1004,87.5,64,SANS), txt('scheme',1003,153.5,64,SANS),
  txt('Prognostic',996,706.5,64,SANS), txt('scheme',996,772.5,64,SANS),
  txt('Liquid',334,172.5,64,SANS), txt('Ice',1318,169.5,64,SANS),
  txt('Liquid',344,818.5,64,SANS), txt('Ice',1321,804.5,64,SANS),
  txt('b)',1504,29,FS,AX,LBL), txt('c)',506,668,FS,AX,LBL), txt('d)',1504,668,FS,AX,LBL)
];

const chart=echarts.init(document.getElementById('c'),null,{renderer:'canvas'});
chart.setOption({animation:false, backgroundColor:'#fff', grid, xAxis, yAxis, series, graphic});
</script></body></html>
